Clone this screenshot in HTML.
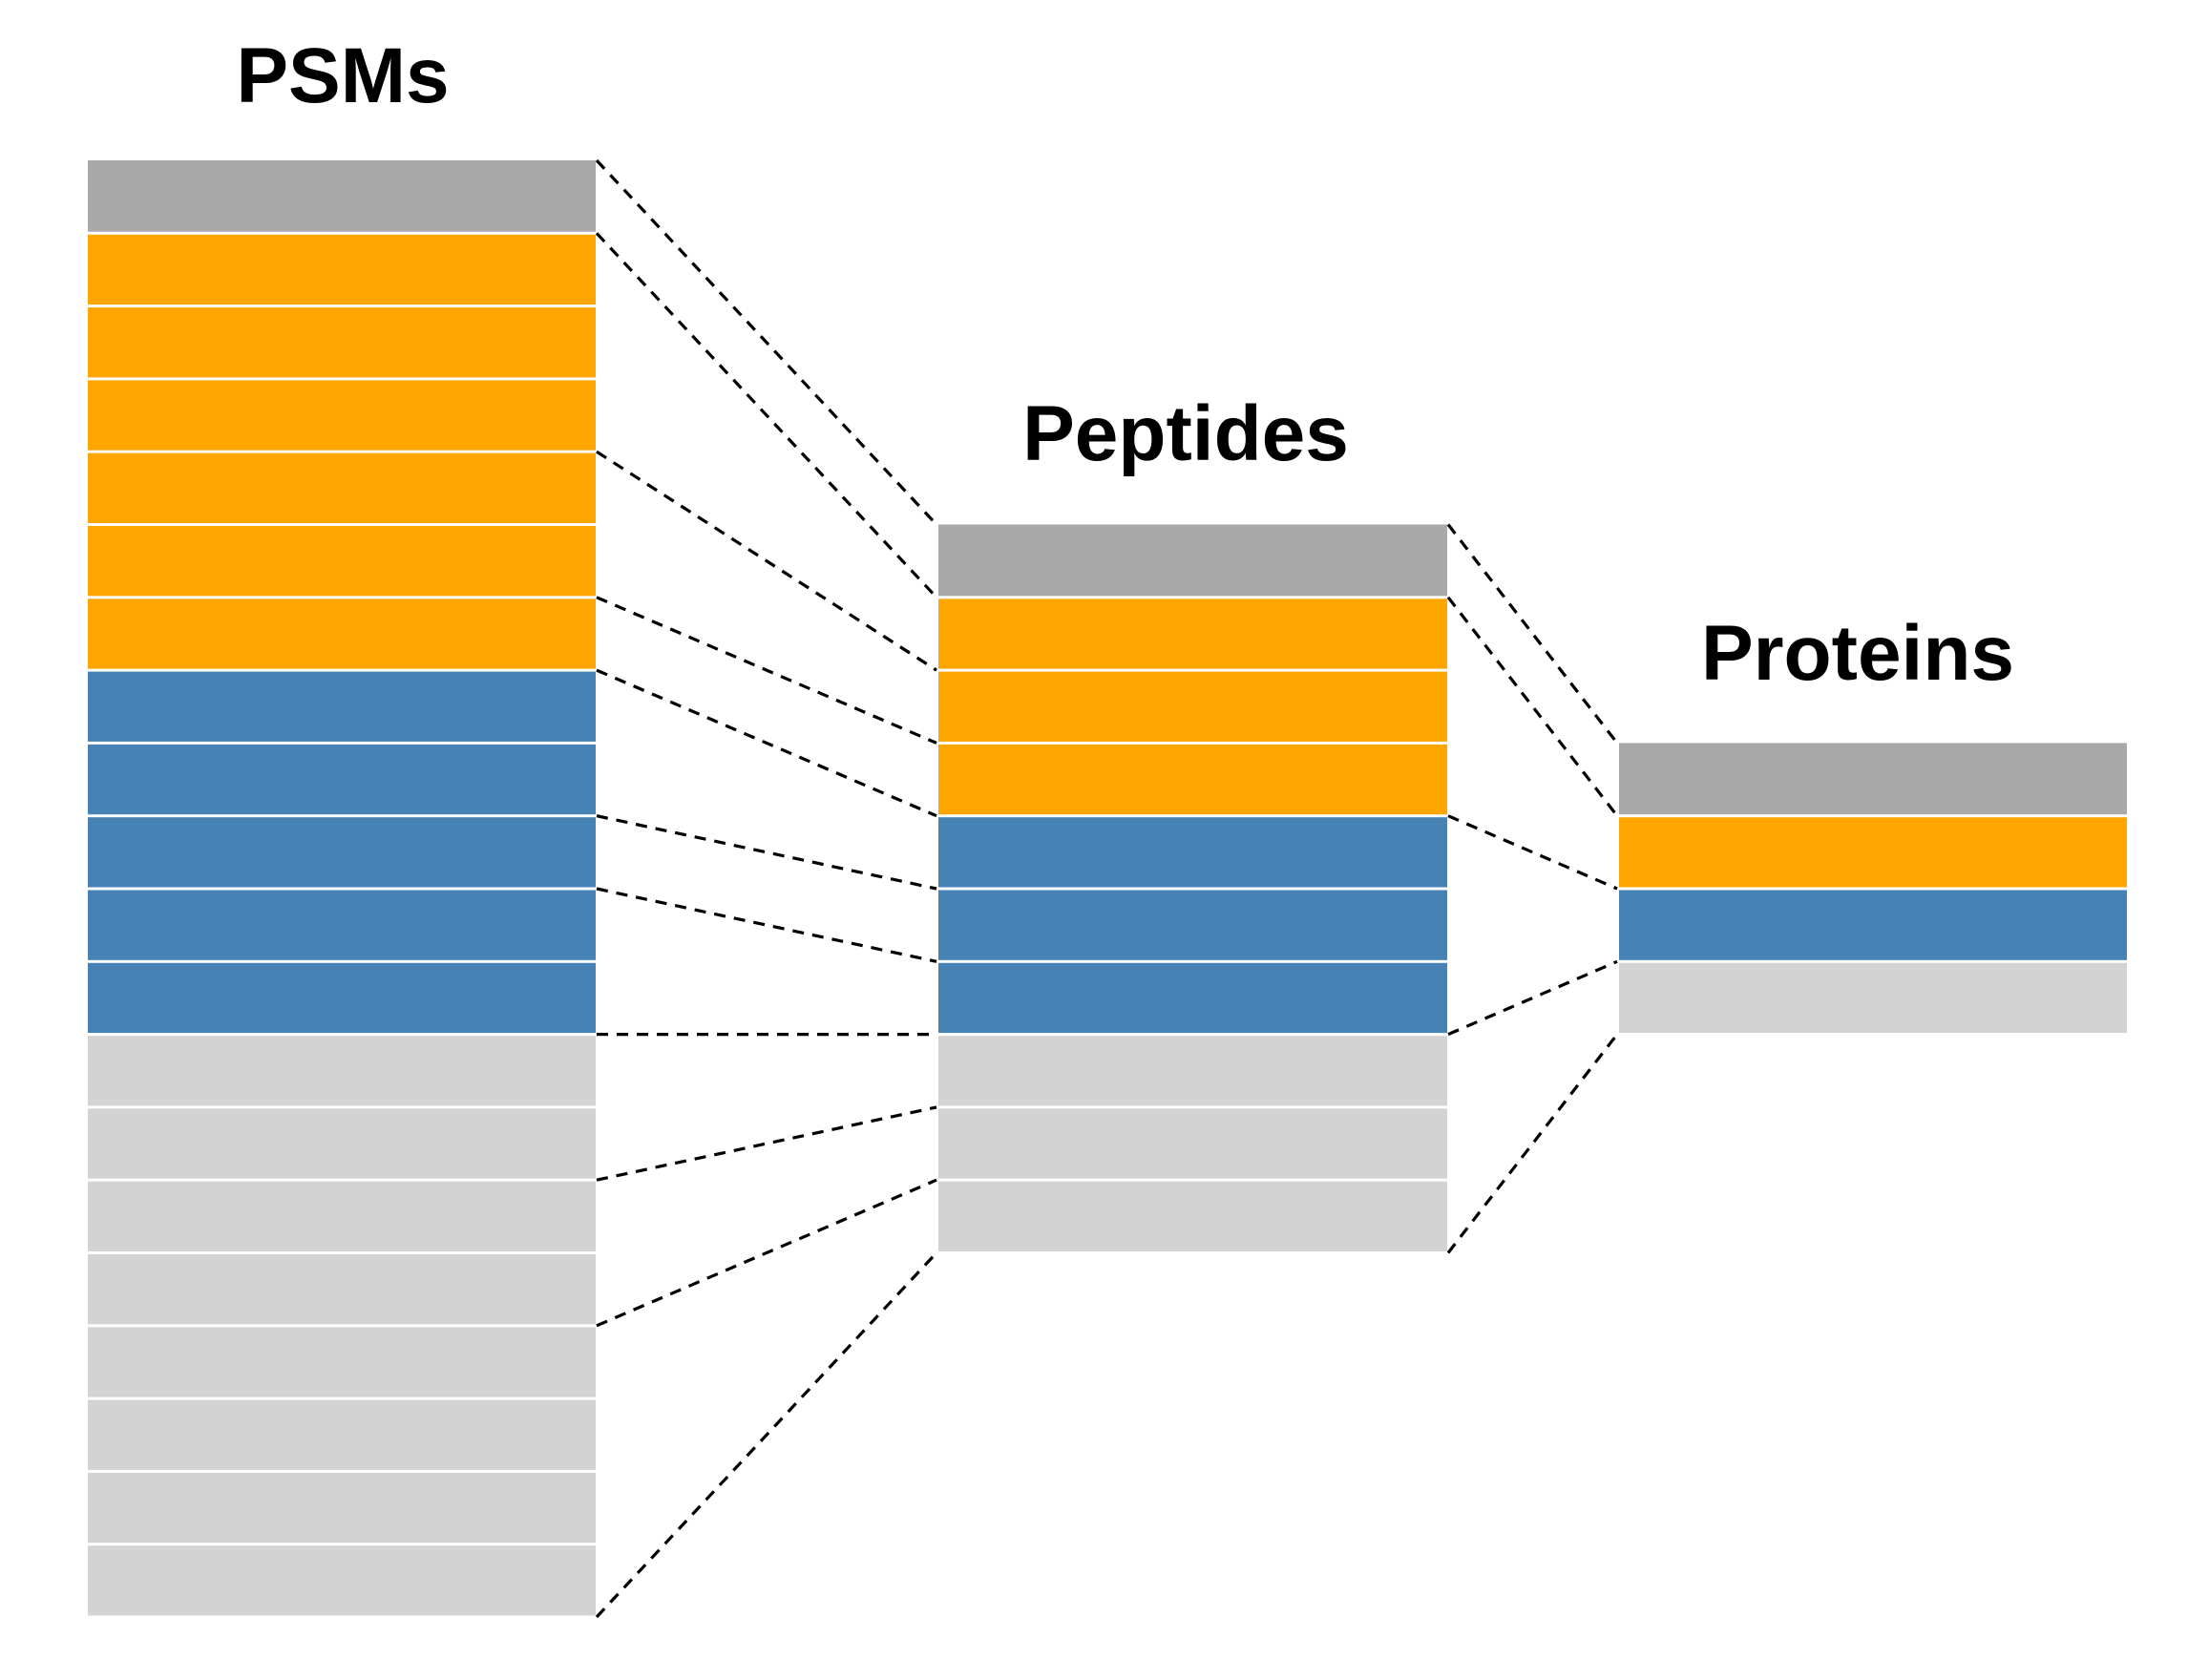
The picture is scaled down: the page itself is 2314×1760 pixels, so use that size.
<!DOCTYPE html>
<html><head><meta charset="utf-8"><style>
html,body{margin:0;padding:0;background:#fff;}
svg{display:block;}
text{font-family:"Liberation Sans",Arial,sans-serif;font-weight:bold;fill:#000;}
</style></head><body>
<svg width="2314" height="1760" viewBox="0 0 2314 1760" xmlns="http://www.w3.org/2000/svg">
<rect width="2314" height="1760" fill="#fff"/>
<!-- PSMs -->
<g>
<rect x="92" width="532" y="168" height="74.8" fill="#a9a9a9"/>
<rect x="92" width="532" y="245.8" height="73.3" fill="#ffa500"/>
<rect x="92" width="532" y="322.1" height="73.3" fill="#ffa500"/>
<rect x="92" width="532" y="398.4" height="73.3" fill="#ffa500"/>
<rect x="92" width="532" y="474.7" height="73.3" fill="#ffa500"/>
<rect x="92" width="532" y="551" height="73.3" fill="#ffa500"/>
<rect x="92" width="532" y="627.3" height="73.3" fill="#ffa500"/>
<rect x="92" width="532" y="703.6" height="73.3" fill="#4682b4"/>
<rect x="92" width="532" y="779.9" height="73.3" fill="#4682b4"/>
<rect x="92" width="532" y="856.2" height="73.3" fill="#4682b4"/>
<rect x="92" width="532" y="932.5" height="73.3" fill="#4682b4"/>
<rect x="92" width="532" y="1008.8" height="73.3" fill="#4682b4"/>
<rect x="92" width="532" y="1085.1" height="73.3" fill="#d3d3d3"/>
<rect x="92" width="532" y="1161.4" height="73.3" fill="#d3d3d3"/>
<rect x="92" width="532" y="1237.7" height="73.3" fill="#d3d3d3"/>
<rect x="92" width="532" y="1314" height="73.3" fill="#d3d3d3"/>
<rect x="92" width="532" y="1390.3" height="73.3" fill="#d3d3d3"/>
<rect x="92" width="532" y="1466.6" height="73.3" fill="#d3d3d3"/>
<rect x="92" width="532" y="1542.9" height="73.3" fill="#d3d3d3"/>
<rect x="92" width="532" y="1619.2" height="73.3" fill="#d3d3d3"/>
</g>
<!-- Peptides -->
<g>
<rect x="983" width="533" y="549.5" height="74.8" fill="#a9a9a9"/>
<rect x="983" width="533" y="627.3" height="73.3" fill="#ffa500"/>
<rect x="983" width="533" y="703.6" height="73.3" fill="#ffa500"/>
<rect x="983" width="533" y="779.9" height="73.3" fill="#ffa500"/>
<rect x="983" width="533" y="856.2" height="73.3" fill="#4682b4"/>
<rect x="983" width="533" y="932.5" height="73.3" fill="#4682b4"/>
<rect x="983" width="533" y="1008.8" height="73.3" fill="#4682b4"/>
<rect x="983" width="533" y="1085.1" height="73.3" fill="#d3d3d3"/>
<rect x="983" width="533" y="1161.4" height="73.3" fill="#d3d3d3"/>
<rect x="983" width="533" y="1237.7" height="73.3" fill="#d3d3d3"/>
</g>
<!-- Proteins -->
<g>
<rect x="1696" width="532" y="778.4" height="74.8" fill="#a9a9a9"/>
<rect x="1696" width="532" y="856.2" height="73.3" fill="#ffa500"/>
<rect x="1696" width="532" y="932.5" height="73.3" fill="#4682b4"/>
<rect x="1696" width="532" y="1008.8" height="73.3" fill="#d3d3d3"/>
</g>
<g stroke="#000" stroke-width="3.2" stroke-dasharray="12 9" fill="none">
<line x1="625" y1="168" x2="981" y2="549.5"/>
<line x1="625" y1="244.3" x2="981" y2="625.8"/>
<line x1="625" y1="473.2" x2="981" y2="702.1"/>
<line x1="625" y1="625.8" x2="981" y2="778.4"/>
<line x1="625" y1="702.1" x2="981" y2="854.7"/>
<line x1="625" y1="854.7" x2="981" y2="931"/>
<line x1="625" y1="931" x2="981" y2="1007.3"/>
<line x1="625" y1="1083.6" x2="981" y2="1083.6"/>
<line x1="625" y1="1236.2" x2="981" y2="1159.9"/>
<line x1="625" y1="1388.8" x2="981" y2="1236.2"/>
<line x1="625" y1="1694" x2="981" y2="1312.5"/>
<line x1="1517" y1="549.5" x2="1694" y2="778.4"/>
<line x1="1517" y1="625.8" x2="1694" y2="854.7"/>
<line x1="1517" y1="854.7" x2="1694" y2="931"/>
<line x1="1517" y1="1083.6" x2="1694" y2="1007.3"/>
<line x1="1517" y1="1312.5" x2="1694" y2="1083.6"/>
</g>
<text x="359" y="107" font-size="82" text-anchor="middle">PSMs</text>
<text x="1242" y="482" font-size="82" text-anchor="middle">Peptides</text>
<text x="1946" y="712" font-size="82" text-anchor="middle">Proteins</text>
</svg>
</body></html>
